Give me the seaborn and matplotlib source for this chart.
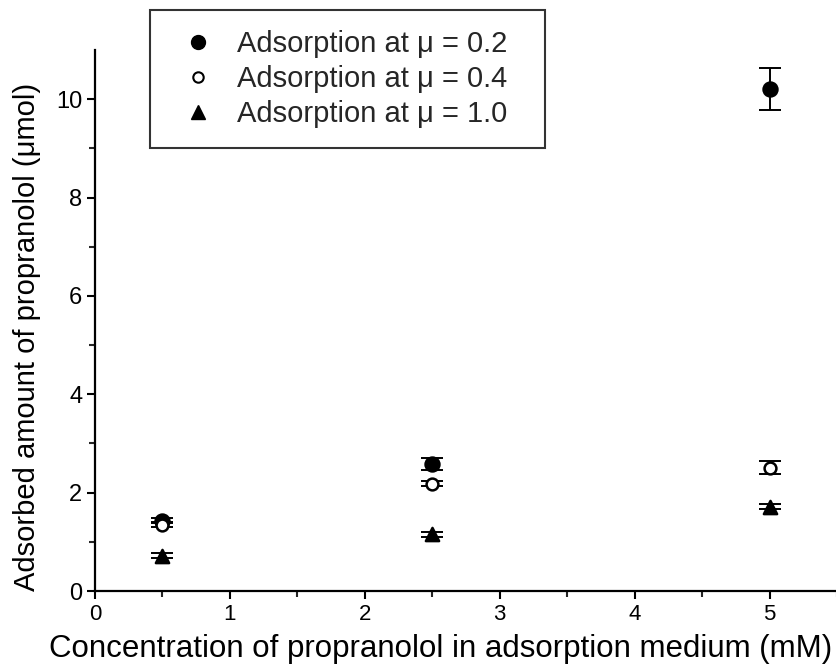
import matplotlib
matplotlib.use("Agg")
import matplotlib.pyplot as plt
from matplotlib.lines import Line2D
import seaborn as sns
import pandas as pd

conc = [0.5, 2.5, 5.0]
ads_02 = [1.43, 2.59, 10.21]
err_02 = [0.05, 0.12, 0.43]
ads_04 = [1.35, 2.18, 2.51]
err_04 = [0.05, 0.05, 0.13]
ads_10 = [0.72, 1.15, 1.71]
err_10 = [0.05, 0.05, 0.05]
labels = ["Adsorption at μ = 0.2", "Adsorption at μ = 0.4", "Adsorption at μ = 1.0"]

sns.set_theme(style="ticks")
plt.rcParams['font.family'] = ['Liberation Sans', 'DejaVu Sans']

fig = plt.figure(figsize=(8.37, 6.72), dpi=100)
ax = fig.add_axes([0.1135, 0.1205, 0.8865, 0.805])

series = [
    (ads_02, err_02, 'o', 'black', 10),
    (ads_04, err_04, 'o', 'white', 8.5),
    (ads_10, err_10, '^', 'black', 9.5),
]
for (vals, errs, mk, fc, ms), lab in zip(series, labels):
    df = pd.DataFrame({"x": conc, "y": vals})
    ax.errorbar(conc, vals, yerr=errs, fmt='none', ecolor='black', elinewidth=1.4,
                capsize=8, capthick=1.4, zorder=2)
    sns.scatterplot(data=df, x="x", y="y", marker=mk, s=ms**2, facecolor=fc,
                    edgecolor='black', linewidth=1.8, ax=ax, zorder=3, legend=False)

ax.set_xlim(0, 5.4)
ax.set_ylim(0, 11)
ax.set_xticks([0, 1, 2, 3, 4, 5])
ax.set_xticks([0.5, 1.5, 2.5, 3.5, 4.5, 5.5], minor=True)
ax.set_yticks([0, 2, 4, 6, 8, 10])
ax.set_yticks([1, 3, 5, 7, 9], minor=True)
ax.tick_params(axis='both', which='major', direction='out', length=6, width=1.5,
               colors='black', pad=3)
ax.tick_params(axis='x', which='major', labelsize=16)
ax.tick_params(axis='y', which='major', labelsize=17)
ax.tick_params(axis='both', which='minor', direction='out', length=4, width=1.5)
ax.spines['top'].set_visible(False)
ax.spines['right'].set_visible(False)
for s in ['left', 'bottom']:
    ax.spines[s].set_linewidth(1.6)
    ax.spines[s].set_color('black')

ax.set_xlabel("Concentration of propranolol in adsorption medium (mM)", fontsize=22.5,
              color='black', labelpad=7)
ax.set_ylabel("Adsorbed amount of propranolol (μmol)", fontsize=21, color='black',
              labelpad=11)
ax.xaxis.label.set_x(0.466)
ax.yaxis.label.set_y(0.47)

handles = [
    Line2D([], [], marker='o', linestyle='none', markerfacecolor='black',
           markeredgecolor='black', markersize=10),
    Line2D([], [], marker='o', linestyle='none', markerfacecolor='white',
           markeredgecolor='black', markeredgewidth=1.5, markersize=7.5),
    Line2D([], [], marker='^', linestyle='none', markerfacecolor='black',
           markeredgecolor='black', markersize=10),
]
leg = fig.legend(handles, labels, loc='upper left',
                 bbox_to_anchor=(150/837, 1 - 148/672, 395/837, 138/672),
                 mode='expand', borderaxespad=0,
                 frameon=True, fancybox=False, fontsize=21, labelspacing=0.23,
                 handletextpad=0.4, borderpad=0.7, handlelength=1.9)
leg.get_frame().set_edgecolor('black')
leg.get_frame().set_linewidth(1.5)

fig.savefig("out.png", dpi=100)
